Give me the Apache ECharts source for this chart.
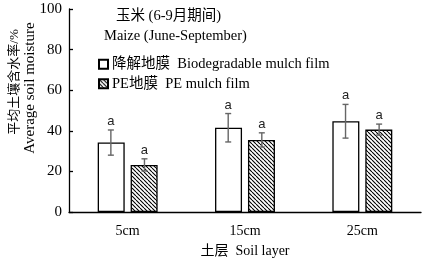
<!DOCTYPE html>
<html>
<head>
<meta charset="utf-8">
<script src="https://cdn.jsdelivr.net/npm/echarts@6/dist/echarts.min.js"></script>
<style>
  html, body { margin: 0; padding: 0; background: #fff; }
  #chart { width: 424px; height: 263px; }
</style>
</head>
<body>
<div id="chart"></div>
<script>
// data
var layers = ['5cm', '15cm', '25cm'];
var bioMean = [34.2, 41.5, 44.7];
var bioErr = [6.2, 7.0, 8.3];
var peMean = [23.2, 35.5, 40.6];
var peErr = [3.0, 3.5, 2.7];
var bioSig = ['a', 'a', 'a'];
var peSig = ['a', 'a', 'a'];
var yTicks = [0, 20, 40, 60, 80, 100];

var serif = '"Liberation Serif", "Noto Sans CJK SC", serif';

// hatch pattern for the PE bars
function makeHatch() {
  var c = document.createElement('canvas');
  c.width = 4; c.height = 4;
  var ctx = c.getContext('2d');
  ctx.fillStyle = '#fff';
  ctx.fillRect(0, 0, 4, 4);
  ctx.strokeStyle = '#000';
  ctx.lineWidth = 1.1;
  ctx.beginPath();
  [-4, 0, 4].forEach(function (k) {
    ctx.moveTo(k, 0);
    ctx.lineTo(k + 4, 4);
  });
  ctx.stroke();
  return c;
}
var hatch = makeHatch();

function errData(mean, err, sig) {
  return mean.map(function (m, i) { return [i, m - err[i], m + err[i], sig[i]]; });
}

function errRender(offset) {
  return function (params, api) {
    var lo = api.coord([api.value(0), api.value(1)]);
    var hi = api.coord([api.value(0), api.value(2)]);
    var x = lo[0] + offset;
    var cap = 3;
    var st = { stroke: '#666', lineWidth: 1.4 };
    return {
      type: 'group',
      children: [
        { type: 'line', shape: { x1: x, y1: lo[1], x2: x, y2: hi[1] }, style: st },
        { type: 'line', shape: { x1: x - cap, y1: lo[1], x2: x + cap, y2: lo[1] }, style: st },
        { type: 'line', shape: { x1: x - cap, y1: hi[1], x2: x + cap, y2: hi[1] }, style: st },
        { type: 'text', style: {
            text: api.value(3), x: x, y: hi[1] - 2,
            align: 'center', verticalAlign: 'bottom',
            font: '13px "Liberation Sans", Arial, sans-serif', fill: '#222'
          } }
      ]
    };
  };
}

var chart = echarts.init(document.getElementById('chart'));

var option = {
  backgroundColor: '#fff',
  animation: false,
  grid: { left: 69, right: 3, top: 9, bottom: 51, outerBoundsMode: 'none', containLabel: false },
  legend: {
    orient: 'vertical',
    left: 93, top: 52,
    itemWidth: 9, itemHeight: 9, itemGap: 5,
    icon: 'rect',
    data: ['降解地膜  Biodegradable mulch film', 'PE地膜  PE mulch film'],
    textStyle: { fontFamily: serif, fontSize: 14.5, color: '#000', padding: [0, 0, 0, -1] }
  },
  graphic: [
    { type: 'text', left: 116, top: 9,
      style: { text: '玉米 (6-9月期间)', font: '14.5px ' + serif, fill: '#000' } },
    { type: 'text', left: 104, top: 29,
      style: { text: 'Maize (June-September)', font: '14.5px ' + serif, fill: '#000' } },
    { type: 'text', x: 15, y: 82, rotation: Math.PI / 2,
      style: { text: '平均土壤含水率/%', font: '13px ' + serif, fill: '#000',
               align: 'center', verticalAlign: 'middle' } },
    { type: 'text', x: 30, y: 88, rotation: Math.PI / 2,
      style: { text: 'Average soil moisture', font: '15px ' + serif, fill: '#000',
               align: 'center', verticalAlign: 'middle' } }
  ],
  xAxis: {
    type: 'category',
    data: layers,
    name: '土层  Soil layer',
    nameLocation: 'middle',
    nameGap: 32,
    nameTextStyle: { fontFamily: serif, fontSize: 14, color: '#000' },
    axisLine: { lineStyle: { color: '#000', width: 1.3 } },
    axisTick: { inside: true, length: 5, lineStyle: { color: '#000', width: 1.3 } },
    axisLabel: { fontFamily: serif, fontSize: 14, color: '#000', margin: 12 }
  },
  yAxis: {
    type: 'value',
    min: yTicks[0], max: yTicks[yTicks.length - 1], interval: 20,
    axisLine: { show: true, lineStyle: { color: '#000', width: 1.3 } },
    axisTick: { show: true, inside: true, length: 4, lineStyle: { color: '#000', width: 1.3 } },
    axisLabel: { fontFamily: serif, fontSize: 15, color: '#000', margin: 7 },
    splitLine: { show: false }
  },
  series: [
    {
      name: '降解地膜  Biodegradable mulch film',
      type: 'bar',
      data: bioMean,
      barWidth: 27,
      barGap: '22%',
      itemStyle: { color: '#fff', borderColor: '#000', borderWidth: 1.3 }
    },
    {
      name: 'PE地膜  PE mulch film',
      type: 'bar',
      data: peMean,
      barWidth: 27,
      itemStyle: { color: { image: hatch, repeat: 'repeat' }, borderColor: '#000', borderWidth: 1.3 }
    },
    {
      type: 'custom',
      data: errData(bioMean, bioErr, bioSig),
      renderItem: errRender(-16.8),
      z: 5
    },
    {
      type: 'custom',
      data: errData(peMean, peErr, peSig),
      renderItem: errRender(16.8),
      z: 5
    }
  ]
};

chart.setOption(option);
window.addEventListener('resize', chart.resize);
</script>
</body>
</html>
